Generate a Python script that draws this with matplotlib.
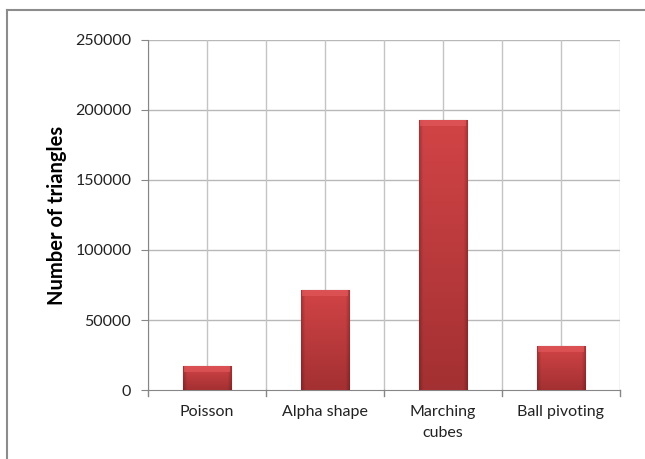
import numpy as np
import matplotlib.pyplot as plt
from matplotlib.colors import to_rgb

categories = ['Poisson', 'Alpha shape', 'Marching\ncubes', 'Ball pivoting']
triangles = [17300, 71400, 192800, 31400]
yticks = [0, 50000, 100000, 150000, 200000, 250000]

plt.rcParams['font.family'] = ['Lato', 'DejaVu Sans']

fig = plt.figure(figsize=(6.45, 4.59), dpi=100)
ax = fig.add_axes([0.2295, 0.1503, 0.7315, 0.7626])

x = np.arange(len(categories))
width = 0.41
bars = ax.bar(x, triangles, width=width, color='#C53B3D', edgecolor='#8A2527',
              linewidth=0.8, zorder=3)

# shading to mimic the bevelled Excel bars: darker bottom and side edges
bottom_c = np.array(to_rgb('#A33032'))
top_c = np.array(to_rgb('#D24446'))
for b in bars:
    x0, w, h = b.get_x(), b.get_width(), b.get_height()
    ny, nx = 200, 60
    t = np.linspace(0, 1, ny).reshape(-1, 1, 1)
    img = bottom_c * (1 - t) + top_c * t
    u = np.linspace(0, 1, nx)
    edge = np.clip(np.minimum(u, 1 - u) / 0.08, 0, 1) * 0.22 + 0.78
    img = img * edge.reshape(1, -1, 1)
    im = ax.imshow(np.clip(img, 0, 1), origin='lower', aspect='auto',
                   extent=(x0, x0 + w, 0, h), zorder=3, interpolation='bilinear')
    im.set_clip_path(b)
    # lighter top cap
    ax.fill_between([x0 + w * 0.03, x0 + w * 0.97], h - 4500, h, color='#E05658',
                    alpha=0.75, zorder=4, linewidth=0)

ax.set_xlim(-0.5, len(categories) - 0.5)
ax.set_ylim(0, 250000)
ax.set_yticks(yticks)
ax.set_yticklabels([str(v) for v in yticks], fontsize=11.5, color='#222222')
ax.set_xticks(x)
ax.set_xticklabels(categories, fontsize=11.5, color='#222222', linespacing=1.6)
ax.tick_params(axis='x', length=0, pad=11)
ax.tick_params(axis='y', length=5, color='#868686', pad=7)

# gridlines: horizontal at ticks, vertical at centers and boundaries
for v in yticks[1:]:
    ax.axhline(v, color='#B8B8B8', linewidth=1, zorder=1)
for v in np.arange(-0.5, len(categories), 0.5):
    ax.axvline(v, color='#C4C4C4', linewidth=1, zorder=1)
# category boundary ticks below the axis
for v in np.arange(-0.5, len(categories), 1.0):
    ax.plot([v, v], [0, -4500], color='#868686', linewidth=1, clip_on=False, zorder=2)

for s in ['top', 'right']:
    ax.spines[s].set_visible(False)
ax.spines['left'].set_color('#868686')
ax.spines['bottom'].set_color('#868686')

ax.set_ylabel('Number of triangles', fontsize=14.5, fontweight='bold', labelpad=6)

# chart border (only top and left visible in the crop)
fig.add_artist(plt.Line2D([0.011, 0.011], [0, 0.978], color='#8C8C8C', linewidth=1.5))
fig.add_artist(plt.Line2D([0.011, 1.0], [0.978, 0.978], color='#8C8C8C', linewidth=1.5))

fig.savefig('out.png', dpi=100)
